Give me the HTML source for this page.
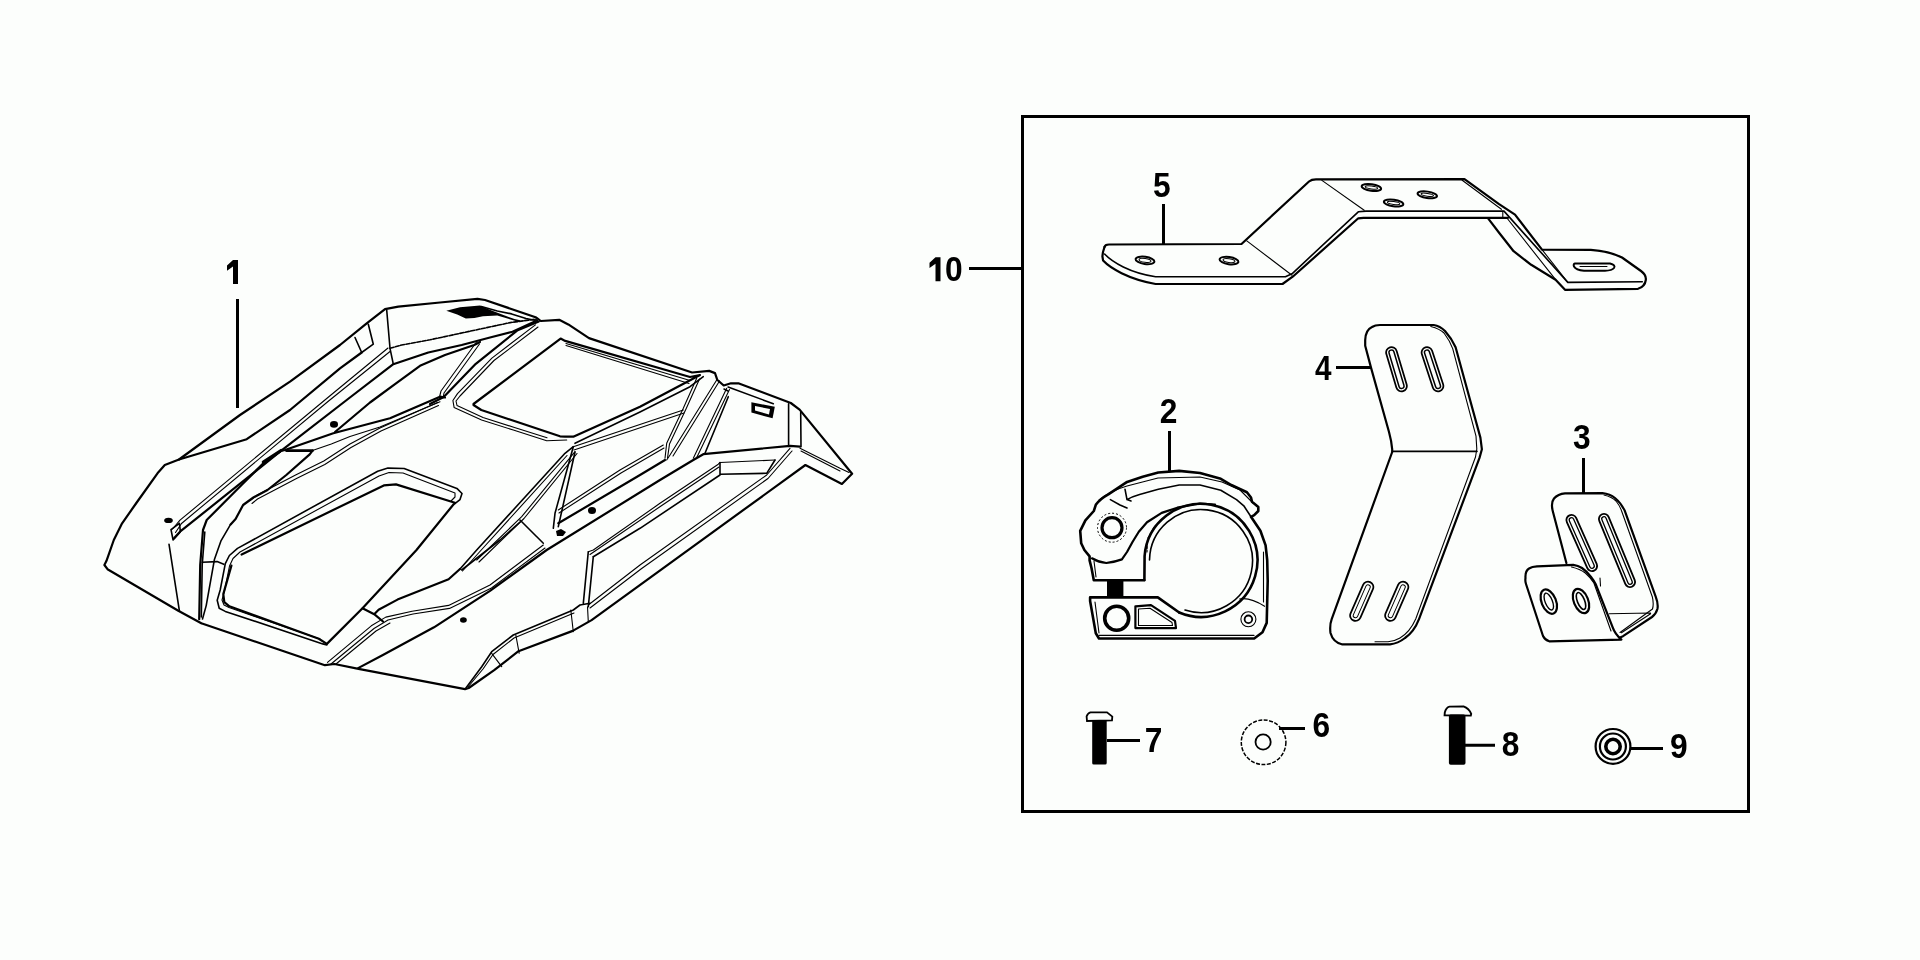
<!DOCTYPE html>
<html><head><meta charset="utf-8"><style>
html,body{margin:0;padding:0;background:#fcfefc;width:1920px;height:960px;overflow:hidden}
svg{position:absolute;left:0;top:0;will-change:transform}
text{font-family:"Liberation Sans",sans-serif;font-weight:bold;font-size:34.5px;fill:#000}
.k{fill:none;stroke:#000;stroke-width:2.2;stroke-linejoin:round;stroke-linecap:round}
.m{fill:none;stroke:#000;stroke-width:1.6;stroke-linejoin:round;stroke-linecap:round}
.t{fill:none;stroke:#000;stroke-width:1.1;stroke-linejoin:round;stroke-linecap:round}
.d{fill:none;stroke:#000;stroke-width:1;stroke-dasharray:3 2}
.L{fill:none;stroke:#000;stroke-width:3}
</style></head><body>
<svg width="1920" height="960" viewBox="0 0 1920 960">
<!-- frame -->
<rect x="1022.5" y="116.5" width="726" height="695" class="L"/>
<!-- leaders -->
<path class="L" d="M969,268.5H1021 M237.5,299V408 M1163.5,204V244 M1336,367.5H1371 M1169.5,431V471 M1583.5,458V494 M1107,740.5H1140 M1279,728.5H1305 M1465,745.2H1495 M1630,748.4H1663"/>
<!-- labels -->
<g id="labels">
<path d="M233,260h5v24h-5v-17.5l-6,4.3v-5.2z M935.5,257.2h5v24h-5v-17.5l-6,4.3v-5.2z" fill="#000"/>
<text transform="translate(945 281) scale(0.92 1)">0</text>
<text transform="translate(1153 197) scale(0.92 1)">5</text>
<text transform="translate(1315 379.5) scale(0.86 1)">4</text>
<text transform="translate(1159.8 423) scale(0.92 1)">2</text>
<text transform="translate(1573 449) scale(0.92 1)">3</text>
<text transform="translate(1144.8 752.2) scale(0.92 1)">7</text>
<text transform="translate(1312.5 737.3) scale(0.92 1)">6</text>
<text transform="translate(1501.8 756.3) scale(0.92 1)">8</text>
<text transform="translate(1670.1 757.8) scale(0.92 1)">9</text>
</g>
<!-- PART5 -->
<g id="p5">
<path class="k" d="M1104.5,247 Q1105,244.5 1109,244.5 L1241.5,244 L1309,181.5 Q1311.5,179.3 1316,179.3 L1464.5,179.2 L1498.7,203.8 L1515,214.7 L1542,249.6 L1590.8,249.9 Q1610,251.5 1622,257.5 L1641,271 Q1646.5,275 1645.8,280 Q1645,286.5 1638,288.8 L1565,289.8 L1555.6,279.7 L1531.2,264.8 L1513.6,251.2 L1498.7,232.3 L1487.9,218.1"/>
<path class="k" d="M1104.5,247 L1103,252 L1102.4,256.3 L1103.1,260.6 C1110,268 1128,279 1155.6,284 L1282.5,284 L1292.7,276.7 L1358.3,218.3 L1363.5,217.8 L1508,217.8"/>
<path class="m" d="M1104.6,254 C1112,262 1130,273 1155.6,276.7 L1285.4,276.7 L1292,273.8 L1358.3,211.8 L1366,211.1 L1504,211.1 L1567.8,282.4 L1642.3,281.7"/>
<path class="t" d="M1246.8,240.9 L1292,275.2 M1321.9,180.4 L1364.2,210.3 M1462.2,180.2 L1501.4,209.3 M1502.8,211 V218 M1506.9,218 L1555.6,279.7 M1542,249.6 L1567.8,282.4"/>
<g class="m" style="stroke-width:2">
<ellipse cx="1145" cy="260.4" rx="9.5" ry="3.6" transform="rotate(8 1145 260.4)"/>
<ellipse cx="1229" cy="260.6" rx="9.5" ry="3.6" transform="rotate(8 1229 260.6)"/>
<ellipse cx="1371.4" cy="187.5" rx="9.8" ry="3.2" transform="rotate(8 1371.4 187.5)"/>
<ellipse cx="1393.6" cy="203" rx="9.8" ry="3.2" transform="rotate(8 1393.6 203)"/>
<ellipse cx="1427.3" cy="194.8" rx="9.8" ry="3.2" transform="rotate(8 1427.3 194.8)"/>
<path d="M1575,263.5 L1610,263.5 Q1616,265 1614,268 Q1612,270.5 1605,270.8 L1584,270.8 Q1576,270 1574,266.5 Q1573,264 1575,263.5 Z"/>
<ellipse cx="1145.0" cy="260.4" rx="6.0" ry="1.8" transform="rotate(8 1145.0 260.4)" stroke-width="1"/>
<ellipse cx="1229.0" cy="260.6" rx="6.0" ry="1.8" transform="rotate(8 1229.0 260.6)" stroke-width="1"/>
<ellipse cx="1371.4" cy="187.5" rx="6.3" ry="1.4" transform="rotate(8 1371.4 187.5)" stroke-width="1"/>
<ellipse cx="1393.6" cy="203.0" rx="6.3" ry="1.4" transform="rotate(8 1393.6 203.0)" stroke-width="1"/>
<ellipse cx="1427.3" cy="194.8" rx="6.3" ry="1.4" transform="rotate(8 1427.3 194.8)" stroke-width="1"/>
<path stroke-width="1" d="M1580,266.5 L1607,266.5"/>
</g>
</g>
<!-- PART4 -->
<g id="p4">
<path class="k" d="M1365.2,340 Q1365.5,330 1372,327 Q1375,325 1380,325 L1433.7,325 Q1440,326 1445,331 Q1452,339 1455.6,347.2 L1480.4,437.6 L1481.9,449.3 L1479.5,457.9 L1419,619.2 Q1414,632 1405,638 Q1398,643.5 1390,644.3 L1341.8,644.3 Q1333,642 1330.5,633 Q1329.5,625 1331.7,619.2 L1392.2,452 L1392.2,449.3 Q1391.5,441 1389,432 L1371,367.6 L1365.2,345.7 Z"/>
<path class="t" d="M1430.8,326.5 Q1440,329 1444,333 Q1450,341 1452.7,348.6 L1476,436.1 L1476.8,449 L1475.5,457 L1415.7,619 Q1410,632 1400,638 Q1394,641.5 1388,641.8 L1375,641.8"/>
<path class="m" d="M1392.2,451.4 H1477"/>
<g stroke-linecap="round" fill="none">
<path stroke="#000" stroke-width="12.5" d="M1391.5,352.5 L1401.5,386 M1427,352.5 L1438,386 M1368,587 L1355.5,615.5 M1403,587 L1390.5,615.5"/>
<path stroke="#fcfefc" stroke-width="9" d="M1391.5,352.5 L1401.5,386 M1427,352.5 L1438,386 M1368,587 L1355.5,615.5 M1403,587 L1390.5,615.5"/>
<path stroke="#000" stroke-width="6.5" d="M1391.5,352.5 L1401.5,386 M1427,352.5 L1438,386"/>
<path stroke="#000" stroke-width="5.5" d="M1368,587 L1355.5,615.5 M1403,587 L1390.5,615.5"/>
<path stroke="#fcfefc" stroke-width="3.5" d="M1391.5,352.5 L1401.5,386 M1427,352.5 L1438,386 M1368,587 L1355.5,615.5 M1403,587 L1390.5,615.5"/>
</g>
</g>
<!-- PART3 -->
<g id="p3">
<path class="k" d="M1566.4,563 L1553,512 Q1550.5,503 1554,498.5 Q1558,494 1565,493.4 L1602.5,493.2 Q1610,494 1615,498 Q1621,503 1624.8,510.8 L1655.7,596.7 Q1658.5,604 1657.4,609 Q1656,614 1652,617 L1623,636.2 L1616.5,639"/>
<path class="t" d="M1604,495 Q1612,497 1616,501 Q1620,506 1621.6,511 L1652.3,596.7 Q1654,604 1652.5,609 L1620,632.5"/>
<g stroke-linecap="round" fill="none">
<path stroke="#000" stroke-width="12" d="M1571.5,520 L1592,566 M1604,519 L1630,582"/>
<path stroke="#fcfefc" stroke-width="8.4" d="M1571.5,520 L1592,566 M1604,519 L1630,582"/>
<path stroke="#000" stroke-width="5.8" d="M1571.5,520 L1592,566 M1604,519 L1630,582"/>
<path stroke="#fcfefc" stroke-width="3.2" d="M1571.5,520 L1592,566 M1604,519 L1630,582"/>
</g>
<path class="k" style="fill:#fcfefc" d="M1525.5,578 Q1525,571 1529,568.5 Q1532,566.5 1537,566.3 L1573.3,564.9 Q1578,565.5 1582,568 Q1587,571.5 1591,577 Q1594,581 1595.6,584 L1612.8,627.6 Q1615,634 1621.4,639.6 L1549.2,641.3 Q1545,640 1543,636 L1526,584 Q1525,581 1525.5,578 Z"/>
<path class="t" d="M1571.5,567 Q1580,569 1585.3,573 Q1590,577 1593.9,583 L1611,631 M1600,578 L1600.5,586 M1609.3,613.8 L1650.6,613 M1621.4,632.7 L1650.6,613.8"/>
<g fill="none">
<ellipse cx="1548.8" cy="601.6" rx="7.2" ry="12.8" transform="rotate(-22 1548.8 601.6)" stroke="#000" stroke-width="2.2"/>
<ellipse cx="1581" cy="601" rx="7.2" ry="12.8" transform="rotate(-22 1581 601)" stroke="#000" stroke-width="2.2"/>
<ellipse cx="1548.8" cy="601.6" rx="3.6" ry="9" transform="rotate(-22 1548.8 601.6)" stroke="#000" stroke-width="1.4"/>
<ellipse cx="1581" cy="601" rx="3.6" ry="9" transform="rotate(-22 1581 601)" stroke="#000" stroke-width="1.6"/>
</g>
</g>
<!-- PART2 -->
<g id="p2">
<rect x="1107" y="580" width="16.4" height="18" fill="#000"/>
<path class="k" style="stroke-width:2.6" d="M1144.3,580.2 L1093.8,580.2 L1091.5,568 L1089.6,560.4 L1089.6,556.3 L1084.4,550 L1081.2,543.3 L1080.2,530.8 L1085.4,520.4 L1093.8,511 L1095.8,504.8 Q1100,499 1108.3,494.4 L1127.1,481.9 L1142.7,476.7 L1158.3,472.5 L1179.2,470.9 L1200,473 L1220.8,478.8 L1231.3,485 L1246.9,492.3 L1251,497.5 L1252,501.7 L1258.3,506.9 L1258.3,511 L1254.2,515.2 L1251,516.8 L1260.4,530.8 L1265.6,545.4 L1267.2,560 L1267.7,581 L1266.7,622.9 L1262.5,632.3 L1254.2,638.5 L1099,638.5 L1095.8,633.3 L1090.1,601 L1090.1,597.4 L1157.8,597.4 L1179.2,612.5"/>
<path class="k" style="stroke-width:2.6" d="M1144.4,580 L1144.6,556 A56.5,56.5 0 1 1 1179.2,612.5"/>
<path class="m" d="M1149.5,560 A51.5,51.5 0 1 1 1185,610"/>
<path class="k" d="M1092,558.3 Q1099,562.5 1106.3,563 Q1115,562 1121.9,559.4 L1127,552 L1132.5,542 L1138.8,531.7 L1147,522.3 L1161.7,512.9 L1177.3,507.7 L1200,503.5 L1215,504.5"/>
<path class="t" stroke-dasharray="2 1.5" d="M1147,552 L1147.5,539 L1154.4,526.5 L1165,517"/>
<path class="m" d="M1127,499.6 Q1132,496.5 1139.6,494.4 L1158.3,489.2 L1179.2,485 L1200,485 L1220.8,490.2 L1236.5,499.6 L1243.8,505.8 L1251,516.8 M1125,489.2 L1127,499.6 L1131,501 M1110.4,499.6 L1120,505 L1127,508"/>
<path class="t" d="M1099,500 Q1110,491 1127,486 L1158,478 L1200,477 L1222,482 L1240,490 L1253,503 M1239.6,599 Q1250,597 1264.6,606.3 M1263.5,552 L1263.5,602 M1099,635.4 L1254,635.4 M1095,602 L1099,633 M1094,561 L1096,577"/>
<circle cx="1112" cy="527.7" r="10" fill="none" stroke="#000" stroke-width="3.2"/>
<circle cx="1112" cy="527.7" r="14.5" fill="none" stroke="#000" stroke-width="1" stroke-dasharray="2 2"/>
<circle cx="1116.7" cy="618.2" r="12" fill="none" stroke="#000" stroke-width="3.6"/>
<circle cx="1248.4" cy="619.3" r="7.5" fill="none" stroke="#000" stroke-width="1.1"/>
<circle cx="1248.4" cy="619.3" r="3.8" fill="none" stroke="#000" stroke-width="1.8"/>
<path class="k" d="M1135.4,606.3 L1151,605.2 L1175,620.8 L1176,628.1 L1135.4,628.1 Z"/>
<path class="t" d="M1138.5,609 L1150,608.3 L1172,622.5 L1172.5,625.5 L1138.5,625.5 Z"/>
</g>
<!-- FASTENERS -->
<g id="fast">
<rect x="1092.2" y="720" width="14.5" height="44.6" rx="1.6" fill="#000"/>
<path fill="none" stroke="#000" stroke-width="1.8" d="M1087,721 L1086.6,716.4 Q1088,713 1090.5,712.4 L1107,712.4 L1112.3,716.6 L1112,720.4 Z"/>
<rect x="1448.9" y="714.6" width="16.6" height="50.2" rx="1.8" fill="#000"/>
<path fill="none" stroke="#000" stroke-width="1.9" d="M1444.6,715.3 L1444.8,712.4 Q1446,707.5 1449.5,706.6 L1463.5,706.4 Q1469,708.5 1471.2,713.8 L1470.8,715.6 Z"/>
<circle cx="1263.6" cy="742.3" r="22.3" fill="none" stroke="#000" stroke-width="1.5" stroke-dasharray="4 1.5"/>
<circle cx="1263.1" cy="742" r="7.6" fill="none" stroke="#000" stroke-width="1.8"/>
<circle cx="1613" cy="746.4" r="17.4" fill="none" stroke="#000" stroke-width="2.2"/>
<circle cx="1612.9" cy="746.5" r="13" fill="none" stroke="#000" stroke-width="2.2"/>
<circle cx="1613" cy="746.5" r="7.2" fill="none" stroke="#000" stroke-width="3.6"/>
</g>
<!-- HOOD -->
<g id="hood">
<path class="k" d="M201.3,623.3 L178.3,610.8 L107.5,569.2 L104.4,565 L106.5,560.8 L113.8,540 L122.1,523.3 L136.7,502.5 L157.5,473.3 L164.8,465 L179,459.5 L240,415 L290,381.7 L340,345 L366.7,323.3 L385,309.2 L398.3,306.7 L440,302.5 L477.5,298.8 L485,300 L536.3,317.5 L540.8,321 L559.2,319.8 L568.3,324.4 L589,338.1 L692.1,372.5 L709.2,370.9 L715,373.1 L717.2,379.7 L723.7,385.5 L731,383.3 L738.3,383.3 L790.8,403 L799.6,409.6 L852.1,473.7 L841.9,484 L805.4,465 L591.6,620.1 L572.7,630.9 L518.5,651.2 L494.2,670.2 L468.7,688 L465,689.2 L358.5,668.8 L334.5,664 L324.9,665.2 L201.3,623.3"/>
<!-- left side panel -->
<path class="k" d="M179,459.5 L246.7,439.2 L290,410 L340,368.3 L361.7,352.5"/>
<path class="m" d="M355,337.5 L361.7,352.5 L373.3,344.2 L368.3,324.2"/>
<path class="m" d="M386.7,310 L390,348.3 L393.3,364.2"/>
<path class="t" d="M172.5,529 L180,520.2 L326.7,398.5 L388,348"/>
<path class="t" d="M175.5,532.5 L181.5,523.5 L328,401.5 L390,351.5"/>
<path class="k" d="M174.2,538 L180,531.7 L280,451.7 L346.7,400 L393.3,364.2"/>
<path class="k" d="M199.2,619.2 L200.2,565 L203,530 L206.7,520 L243.3,483.3 L263.3,463.3 L280,451.7"/>
<path class="m" d="M201.3,617 L202.2,565 L204.8,532"/>
<path class="k" style="stroke-width:3.2" d="M263.3,462 L281,450.5"/>
<path class="k" d="M281,451 L285,450 L333.3,433.3 L390,418.3 L440,396.7 L445,397.5"/>
<path class="k" style="stroke-width:2.8" d="M286.3,450.6 L312.5,450.6"/>
<path class="t" d="M312.5,450.6 L331.3,444 L350,436.6 L380,427 L440,401.7"/>
<path class="k" d="M335,432 L370,402.5 L395,384.2 L420,365.8 L445,355 L474.2,345 L480,342"/>
<path class="k" d="M394,364 L428.3,352.5 L461.7,345 L490,337.5 L512.5,331.8 L537,320.5"/>
<path class="m" stroke-dasharray="4 1.5" d="M390,348.3 L401.7,345 L430,339.8 L510.2,322.6 L537,319"/>
<!-- small panel at left end -->
<path class="m" d="M171,529.6 L179.4,523.3 L180.4,531.7 L173.1,540 L171,529.6 M169,544.2 L179.4,610.8"/>
<path class="m" d="M202.2,562.3 L217.1,561.6 L223.8,564.3"/>
<!-- curve K -->
<path class="m" d="M202.5,619 L206.2,605.6 L214.4,559.6 L221.1,540.6 L230.6,524.4"/>
<path class="k" d="M230.6,524.4 L235.6,519 L243.1,505 L253.4,497.5 L267.5,490 L286.3,475 L309.7,454.4 L312.5,450.6"/>
<path class="t" d="M250,500.5 L256.3,495.6 L295.6,475 L323.8,461 L350,444 L380,428 L437.5,402.5"/>
<path class="t" d="M252,503.5 L257.5,499 L296.5,478.5 L324.8,464.5 L351,447.5 L381,431 L438.5,405.5"/>
<!-- window 2 -->
<path class="m" d="M454.9,503.7 L460,499.6 L462,493.5 L456.9,488.4 L404.1,468.5 L387.9,468.1 L377.7,471.2 L237.5,548.4 L229.4,555.5 L225.3,563.6 L220.2,590 L217.2,600.2 L219.2,608.3 L225.3,611.4 L322.8,643.9 L326.9,644.9"/>
<path class="t" d="M451,501 L455,497 L455,493 L403,473 L389,472.5 L379,476 L240,552 L233,558.5 L229.5,566 L224.5,591 L222,600 L224,605 L229,607.5 L320,639"/>
<path class="k" d="M241.6,554.5 L383.8,485.4 L396,484.4 L454.9,502.7 L416.5,550 L362.5,608.3 L326.9,643.9 M231.4,565.6 L223.3,594.1 L224.3,602.2 L229.4,606.3 L318.8,638.8 L326.9,643.9"/>

<!-- top region -->
<path d="M446.3,310.8 L460,307.3 L480.1,305.6 L491.6,310.5 L514.5,319.1 L520.2,320.2 L519.1,322 L497.3,315.6 L483,316.2 L474.4,317.9 L465.8,318.5 L457.2,314.5 Z" fill="#000"/>
<path class="m" d="M481.3,306.5 L497.3,311 L511.6,313.9 L526,318.5 L534.6,320.2"/>
<!-- L8 dashed double -->
<path class="t" d="M476.5,342 L441,391 L439.5,397"/>
<path class="t" d="M479.5,344 L444,393 L443,398"/>
<!-- spine left edge -->
<path class="k" d="M430,404 L443.7,397.1 L475.8,363.8 L517.1,330.6 L538.8,321.5"/>
<!-- window1 outer rim -->
<path class="t" d="M535.4,324.9 L491.9,358.1 L457.5,393.6 L452.9,400.5 L454.1,407.4 L481.6,420 L513.3,430 L546.7,440.8 L566.7,440"/>
<path class="t" d="M538,327 L494,360.5 L460,396 L456,401 L457,405.5 L483,417.5 L514.5,427.5 L547,437.8"/>
<!-- window1 inner -->
<path class="k" d="M473.5,404 L560.6,338.6 L565.2,340.9 L690,377 L700,375 L640,406.7 L573.3,436.7 L565,436.7 L560,436.3 L481.3,410 L473.5,405 Z"/>
<path class="t" d="M566,343.5 L690,380.5 M566,345.5 L689,383.5"/>
<path class="m" d="M575,443.3 L640,412 L690,386.7 L703.3,376.7"/>
<!-- V lines and spine right -->
<path class="t" d="M696.7,378.3 L683.3,408.3 L666.7,443.3 L665,458.3 M699.5,379 L686,409 L669.5,444 L667.5,458"/>
<path class="t" d="M716.7,380 L670,455 L666.7,460 M719.5,381 L673,456"/>
<path class="t" d="M726.7,388.3 L693.3,458.3 M729.5,389.5 L696.5,458"/>
<path class="m" d="M728.3,396.7 L705,453.3"/>
<path class="t" d="M573.3,446.7 L683.3,410 M574,450 L684,413"/>
<path class="t" d="M558.3,510 L620,470 L663.3,445 M559,513 L621,473 L664,448"/>
<path class="k" d="M558.3,523.3 L640,475 L665,460"/>
<ellipse cx="592" cy="510.5" rx="4" ry="3.5" fill="#000"/>
<path d="M556,531 L561,529 L566,532 L563,536 L557,536 Z" fill="#000"/>
<!-- curvy line P1 and P2 -->
<path class="k" d="M362.5,608.3 L374.2,614.2 L383,621.5 M374.2,614.2 L378.6,609.8 L397.5,599.6 L448.6,579.2 L460,569"/>
<path class="m" d="M460,569 L476.7,550 L565,453.3 L573.3,446.7"/>
<path class="t" d="M462.5,571 L479,552.5 L567,455.5"/>
<path class="t" d="M476.7,560 L521.7,516.7 L575,451.7 M479,562 L524,518.5 L577,453.5"/>
<!-- node lines -->
<path class="m" d="M573.3,446.7 L555,513.3 L553.3,528.3 M575,452 L558.3,526.7"/>
<path class="m" d="M520,520 L543.3,543.3"/>
<!-- double band a -->
<path class="t" d="M327.5,662.3 L371.3,625.8 L385.8,617.1 L412.1,611.3 L448.6,605.4 L490,585 L543.3,545"/>
<path class="t" d="M331,664 L374,628.5 L388,620 L413,614 L449.5,608.4 L491.5,588 L545,548"/>
<path class="t" d="M336,664 L376,631 L390,623"/>
<!-- M1 main long line -->
<path class="k" d="M358.1,668.1 L382.9,655 L434,627.3 L490,590.8 L546.7,550 L660,480 L693.3,460 L703.3,454.2 L790,445.8 L800,446.7"/>
<!-- line from node down-left -->
<path class="m" d="M461.7,570 L500,540 L520,522"/>
<!-- vent -->
<path class="t" d="M588.3,551.7 L593.3,550 L660,503.3 L718.3,464.2 L720,462.5 L775,460 M590,554.5 L661,506 L719,467"/>
<path class="m" d="M593.3,556.7 L640,528.3 L720,475 M720,462.5 L720,474.2 L766.7,473.3 L775,460"/>
<path class="m" d="M588.3,551.7 L583.3,603.3 M593.3,556.7 L588.3,606.7"/>
<path class="t" d="M588.3,605 L640,565 L766.7,475 L790,448.3 M590,608 L641,569 L768,478.5 L792,451"/>
<!-- flange -->
<path class="m" d="M465,689.2 L481.7,666.7 L491.7,651.7 L513.3,635 L573.3,610 L580,605 L590,603.3"/>
<path class="t" d="M468,687 L483,669 L493,654.5 L514,638 L574,613"/>
<path class="t" d="M491.7,653.3 L501.7,666.7 M515.8,635 L519.2,653.3 M570.8,610 L573.3,631.7 M587.5,606.7 L588.3,621.7"/>
<!-- right end -->
<path class="m" d="M728.1,387 L773.3,403.7 M724,389 L728,391"/>
<path d="M751.4,402.3 L774.8,406.7 L772.6,418.3 L751.4,412.5 Z" fill="#000"/>
<path d="M755,406 L770,409 L769,414.5 L755,410.5 Z" fill="#fcfefc"/>
<path class="m" d="M788.6,403.7 L788.6,446 M800.7,412.5 L801,446.7"/>
<path class="t" d="M800,448.3 L840,468.3 L849,472.5 M801,451 L840,471"/>
<ellipse cx="168.5" cy="520.4" rx="4.3" ry="2.6" fill="#000"/>
<ellipse cx="334" cy="424.4" rx="4" ry="3.3" fill="#000"/>
<ellipse cx="463.4" cy="620" rx="3.4" ry="2.8" fill="#000"/>
</g>
</svg>
</body></html>
